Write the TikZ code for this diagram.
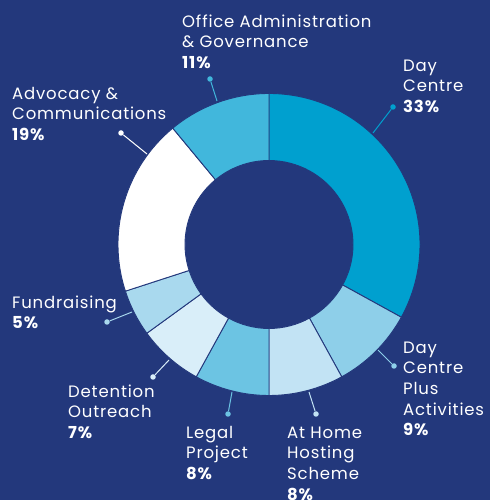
\documentclass[tikz,border=0pt]{standalone}
\usepackage{fontspec}
\setmainfont{Poppins}[LetterSpace=5]
\definecolor{bgnavy}{HTML}{23387C}
\definecolor{cDay}{HTML}{00A0CF}
\definecolor{cOffice}{HTML}{41B7DC}
\definecolor{cPlus}{HTML}{8ECFE9}
\definecolor{cHome}{HTML}{C2E3F4}
\definecolor{cLegal}{HTML}{6CC4E3}
\definecolor{cDet}{HTML}{D9EEF9}
\definecolor{cFund}{HTML}{A9D9EE}
\definecolor{cAdv}{HTML}{FFFFFF}
\newcommand{\ringseg}[3]{%
  \fill[#1,draw=bgnavy,line width=0.9pt]
    ($(C)+(90-#2:151)$) arc[start angle=90-#2,end angle=90-#3,radius=151]
    -- ($(C)+(90-#3:84)$) arc[start angle=90-#3,end angle=90-#2,radius=84] -- cycle;}
\begin{document}
\begin{tikzpicture}[x=1pt,y=1pt,
  lbl/.style={anchor=north west,inner sep=0pt,align=left,text=white,
    font=\fontsize{16.5}{20.7}\selectfont},
  leader/.style={line width=1pt},
  ldot/.style={circle,inner sep=0pt,minimum size=5.5pt}]
\usetikzlibrary{calc}
\fill[bgnavy] (0,0) rectangle (490,500);
\useasboundingbox (0,0) rectangle (490,500);
\coordinate (C) at (269,255.5);
\ringseg{cDay}{0}{118.8}
\ringseg{cPlus}{118.8}{151.2}
\ringseg{cHome}{151.2}{180}
\ringseg{cLegal}{180}{208.8}
\ringseg{cDet}{208.8}{234}
\ringseg{cFund}{234}{252}
\ringseg{cAdv}{252}{320.4}
\ringseg{cOffice}{320.4}{360}
% leader lines
\node[ldot,fill=cOffice] (dOffice) at (210,421) {};
\coordinate (rOffice) at (217,399);
\draw[leader,cOffice] (rOffice) -- (dOffice);
\node[ldot,fill=cDay] (dDay) at (393,393) {};
\coordinate (rDay) at (373,367);
\draw[leader,cDay] (rDay) -- (dDay);
\node[ldot,fill=cAdv] (dAdv) at (121,367) {};
\coordinate (rAdv) at (147,346);
\draw[leader,cAdv] (rAdv) -- (dAdv);
\node[ldot,fill=cFund] (dFund) at (107,178) {};
\coordinate (rFund) at (132,188);
\draw[leader,cFund] (rFund) -- (dFund);
\node[ldot,fill=cDet] (dDet) at (153,123) {};
\coordinate (rDet) at (169,140);
\draw[leader,cDet] (rDet) -- (dDet);
\node[ldot,fill=cLegal] (dLegal) at (228,86) {};
\coordinate (rLegal) at (232,108);
\draw[leader,cLegal] (rLegal) -- (dLegal);
\node[ldot,fill=cHome] (dHome) at (316,86) {};
\coordinate (rHome) at (309,108);
\draw[leader,cHome] (rHome) -- (dHome);
\node[ldot,fill=cPlus] (dPlus) at (394,134) {};
\coordinate (rPlus) at (378,150);
\draw[leader,cPlus] (rPlus) -- (dPlus);
% labels (top = first baseline + strut height 14.5)
\node[lbl] (tOffice) at (182,487.5) {\strut Office Administration\\ \& Governance\\ \textbf{11\%}};
\node[lbl] (tDay) at (403,443.5) {\strut Day\\ Centre\\ \textbf{33\%}};
\node[lbl] (tAdv) at (12,415.5) {\strut Advocacy \&\\ Communications\\ \textbf{19\%}};
\node[lbl] (tFund) at (12,206.5) {\strut Fundraising\\ \textbf{5\%}};
\node[lbl] (tDet) at (68,117.5) {\strut Detention\\ Outreach\\ \textbf{7\%}};
\node[lbl] (tLegal) at (186,76.5) {\strut Legal\\ Project\\ \textbf{8\%}};
\node[lbl] (tHome) at (287,76.5) {\strut At Home\\ Hosting\\ Scheme\\ \textbf{8\%}};
\node[lbl] (tPlus) at (403,161.5) {\strut Day\\ Centre\\ Plus\\ Activities\\ \textbf{9\%}};
\end{tikzpicture}
\end{document}
